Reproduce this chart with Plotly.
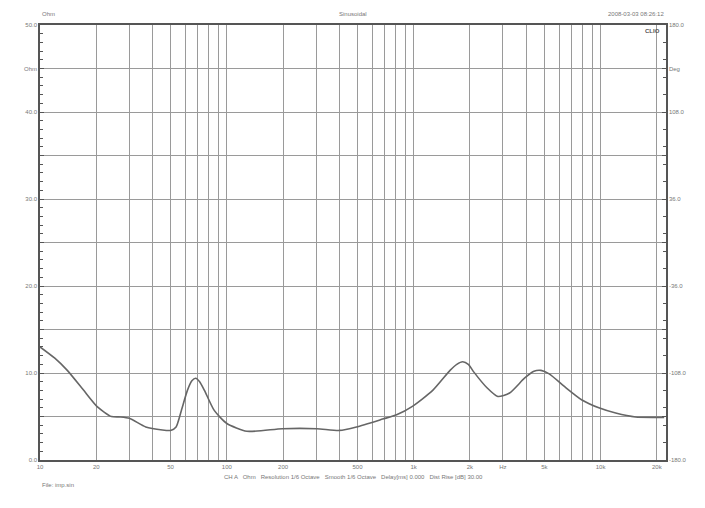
import plotly.graph_objects as go
import math

freq_hz = [10, 12, 14.0, 17, 20.3, 24.1, 27, 30.1, 36.8, 45.2, 50, 53.5, 57.1, 61.5, 65, 68.1, 71.5, 75.9,
           85.6, 100, 128, 198, 303, 400, 494, 682, 810, 989, 1264, 1565, 1700, 1830, 1960, 2100,
           2467, 2820, 3260, 3916, 4400, 4800, 5310, 6534, 7950, 9790, 12050, 15380, 19650, 21900]
impedance_ohm = [13.0, 11.7, 10.3, 8.1, 6.1, 5.0, 4.95, 4.8, 3.8, 3.45, 3.4, 3.8, 5.7, 8.0, 9.1, 9.4, 9.0, 8.0,
                 5.7, 4.2, 3.3, 3.6, 3.6, 3.4, 3.8, 4.7, 5.2, 6.2, 8.0, 10.3, 11.0, 11.3, 11.0, 10.1,
                 8.3, 7.3, 7.7, 9.4, 10.2, 10.3, 9.9, 8.3, 6.9, 6.0, 5.4, 4.95, 4.9, 4.9]

x_grid = [10, 20, 30, 40, 50, 60, 70, 80, 90, 100, 200, 300, 400, 500, 600, 700, 800, 900,
          1000, 2000, 3000, 4000, 5000, 6000, 7000, 8000, 9000, 10000, 20000]
x_labels = {10: "10", 20: "20", 50: "50", 100: "100", 200: "200", 500: "500", 1000: "1k",
            2000: "2k", 3000: "Hz", 5000: "5k", 10000: "10k", 20000: "20k"}
y_left_vals = [0, 5, 10, 15, 20, 25, 30, 35, 40, 45, 50]
y_left_text = ["0.0", "", "10.0", "", "20.0", "", "30.0", "", "40.0", "Ohm", "50.0"]
y_right_vals = [-180, -144, -108, -72, -36, 0, 36, 72, 108, 144, 180]
y_right_text = ["-180.0", "", "-108.0", "", "-36.0", "", "36.0", "", "108.0", "Deg", "180.0"]

TXT = dict(family="Liberation Sans, Arial", size=6, color="#777777")
GRID = "#9a9a9a"
FRAME = "#555555"

fig = go.Figure()
fig.add_trace(go.Scatter(x=freq_hz, y=impedance_ohm, mode="lines",
                         line=dict(color="#666666", width=1.6, shape="spline", smoothing=0.6),
                         hoverinfo="skip", showlegend=False))
fig.add_trace(go.Scatter(x=[freq_hz[0]], y=[0], yaxis="y2", mode="markers",
                         marker=dict(opacity=0), hoverinfo="skip", showlegend=False))

fig.update_layout(
    width=705, height=508,
    margin=dict(l=32, r=47, t=17, b=56, autoexpand=False),
    paper_bgcolor="white", plot_bgcolor="white",
    font=TXT,
    xaxis=dict(type="log", range=[1, math.log10(22400)], automargin=False,
               tickmode="array", tickvals=x_grid,
               ticktext=[x_labels.get(v, "") for v in x_grid],
               showgrid=True, gridcolor=GRID, gridwidth=1,
               showline=True, linecolor=FRAME, linewidth=1.5, mirror=True,
               ticks="", tickfont=TXT, zeroline=False),
    yaxis=dict(range=[0, 50], automargin=False, tickmode="array", tickvals=y_left_vals, ticktext=y_left_text,
               showgrid=True, gridcolor=GRID, gridwidth=1,
               showline=True, linecolor=FRAME, linewidth=1.5, mirror=True,
               ticks="inside", ticklen=4, tickcolor=FRAME,
               minor=dict(tick0=0, dtick=1, ticks="inside", ticklen=3, tickcolor=FRAME, showgrid=False),
               tickfont=TXT, zeroline=False),
    yaxis2=dict(range=[-180, 180], overlaying="y", side="right", anchor="x", automargin=False,
                tickmode="array", tickvals=y_right_vals, ticktext=y_right_text,
                showgrid=False, showline=True, linecolor=FRAME, linewidth=1.5,
                ticks="inside", ticklen=4, tickcolor=FRAME,
                minor=dict(tick0=-180, dtick=14.4, ticks="inside", ticklen=3, tickcolor=FRAME, showgrid=False),
                tickfont=TXT, zeroline=False),
    annotations=[
        dict(text="Sinusoidal", x=0.5, y=1, xref="paper", yref="paper", yanchor="bottom",
             yshift=6, showarrow=False, font=TXT),
        dict(text="2008-03-03 08:26:12", x=1, y=1, xref="paper", yref="paper", xanchor="right",
             yanchor="bottom", yshift=6, showarrow=False, font=TXT),
        dict(text="<b>CLIO</b>", x=1, y=1, xref="paper", yref="paper", xanchor="right",
             yanchor="top", xshift=-4, yshift=-1, showarrow=False, font=dict(size=6, color="#555555")),
        dict(text="CH A   Ohm   Resolution 1/6 Octave   Smooth 1/6 Octave   Delay[ms] 0.000   Dist Rise [dB] 30.00",
             x=0.5, y=0, xref="paper", yref="paper", yanchor="top", yshift=-12,
             showarrow=False, font=TXT),
        dict(text="File: imp.sin", x=0, y=0, xref="paper", yref="paper", xanchor="left",
             yanchor="top", yshift=-20, showarrow=False, font=TXT),
        dict(text="Ohm", x=0, y=1, xref="paper", yref="paper", xanchor="left",
             yanchor="bottom", yshift=6, showarrow=False, font=TXT),
    ],
)

fig.write_html("out.html")
